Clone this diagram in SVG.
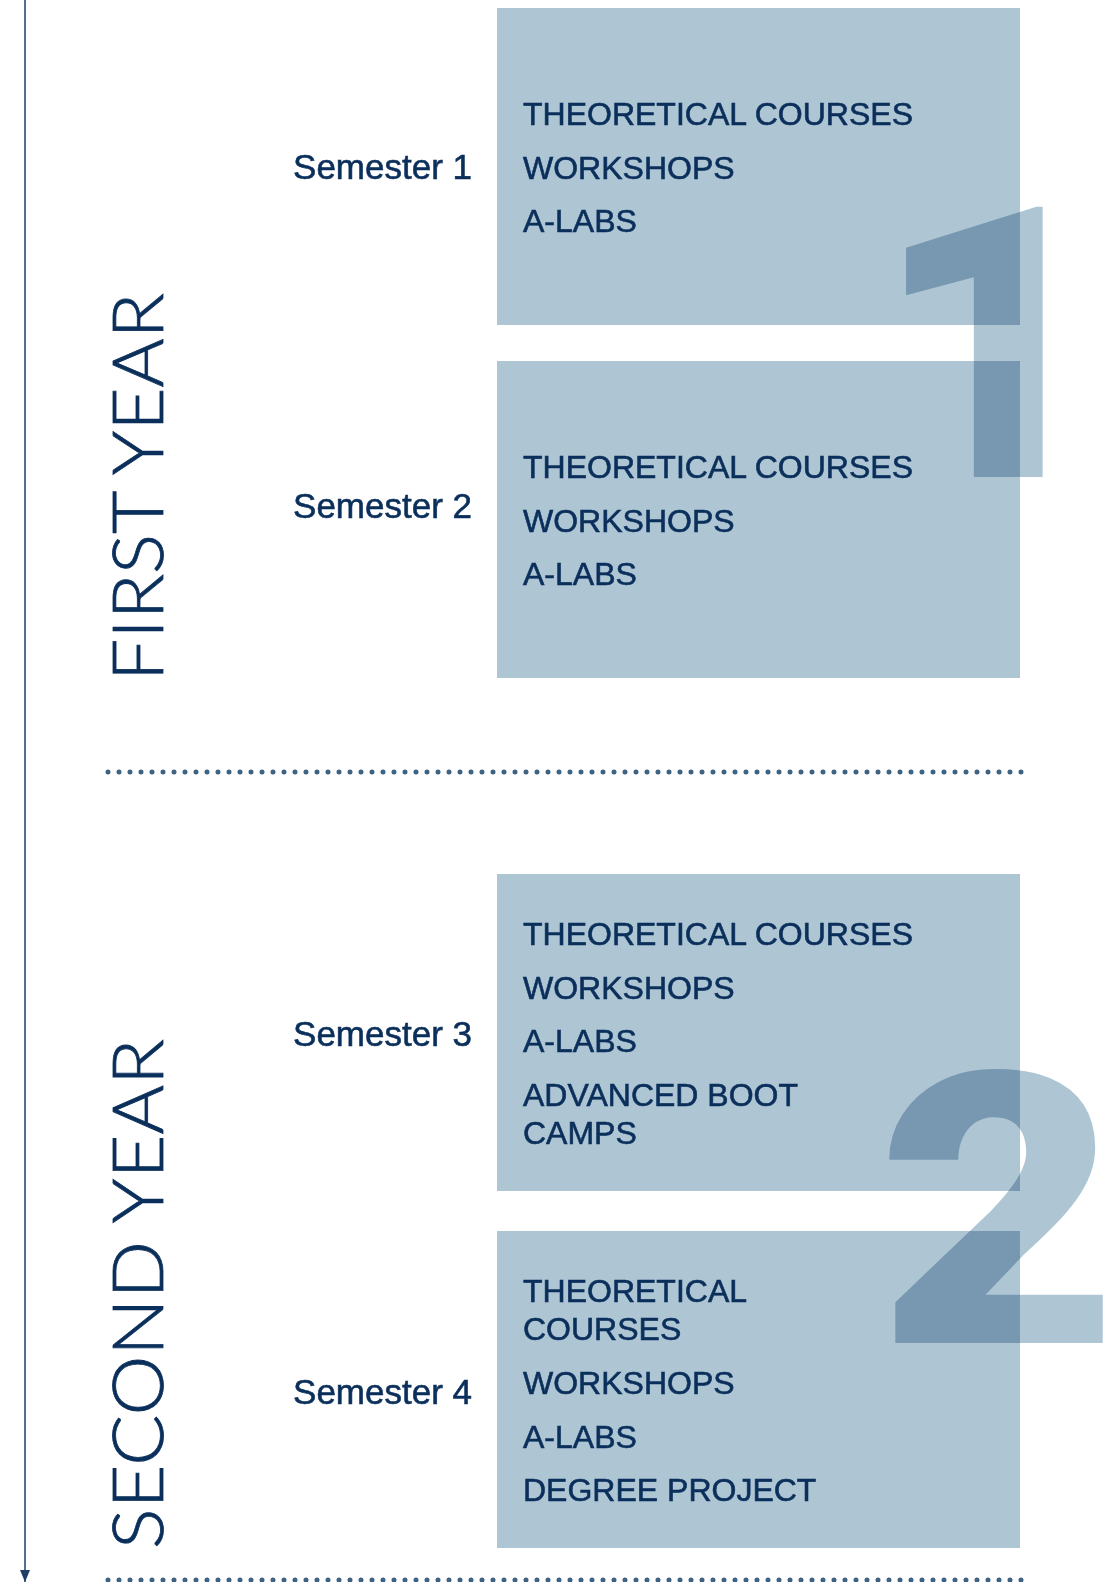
<svg xmlns="http://www.w3.org/2000/svg" width="1120" height="1582" viewBox="0 0 1120 1582">
<defs>
<style>
.box{fill:#aec5d4}
.item{font-family:"Liberation Sans",Arial,sans-serif;font-size:32px;fill:#0b2f5b;stroke:#0b2f5b;stroke-width:0.6}
.sem{font-family:"Liberation Sans",Arial,sans-serif;font-size:35px;fill:#0b2f5b;stroke:#0b2f5b;stroke-width:0.6;text-anchor:end}
.year{font-family:Lato,"Liberation Sans",sans-serif;font-weight:300;font-size:71px;fill:#0b2f5b;stroke:#0b2f5b;stroke-width:0.8}
.num{font-family:Roboto,"Liberation Sans",sans-serif;font-weight:900;font-size:380px;fill:#aec5d4;mix-blend-mode:multiply}
.dots{stroke:#3e6282;stroke-width:5;stroke-linecap:round;stroke-dasharray:0 11;fill:none}
</style>
<marker id="arr" viewBox="0 0 12 10" refX="12" refY="5" markerWidth="12" markerHeight="10" markerUnits="userSpaceOnUse" orient="auto">
<path d="M0,0 L12,5 L0,10 Z" fill="#1f3f6a"/>
</marker>
</defs>
<rect width="1120" height="1582" fill="#fff"/>
<g id="connectors">
<line x1="25" y1="0" x2="25" y2="1582" stroke="#1f3f6a" stroke-width="1.5" marker-end="url(#arr)"/>
<line class="dots" x1="108" y1="772" x2="1022" y2="772"/>
<line class="dots" x1="108" y1="1580" x2="1022" y2="1580"/>
</g>
<g id="year1"><text class="year" transform="translate(163,681) rotate(-90)" textLength="388" lengthAdjust="spacingAndGlyphs">FIRST YEAR</text></g>
<g id="year2"><text class="year" transform="translate(163,1549) rotate(-90)" textLength="510" lengthAdjust="spacingAndGlyphs">SECOND YEAR</text></g>
<g id="sem1"><text class="sem" x="472" y="179">Semester 1</text></g>
<g id="sem2"><text class="sem" x="472" y="518">Semester 2</text></g>
<g id="sem3"><text class="sem" x="472" y="1046">Semester 3</text></g>
<g id="sem4"><text class="sem" x="472" y="1404">Semester 4</text></g>
<g id="box1"><rect class="box" x="497" y="8" width="523" height="317"/>
<text class="item" x="523" y="125">THEORETICAL COURSES</text>
<text class="item" x="523" y="179">WORKSHOPS</text>
<text class="item" x="523" y="232">A-LABS</text></g>
<g id="box2"><rect class="box" x="497" y="361" width="523" height="317"/>
<text class="item" x="523" y="478">THEORETICAL COURSES</text>
<text class="item" x="523" y="532">WORKSHOPS</text>
<text class="item" x="523" y="585">A-LABS</text></g>
<g id="box3"><rect class="box" x="497" y="874" width="523" height="317"/>
<text class="item" x="523" y="945">THEORETICAL COURSES</text>
<text class="item" x="523" y="999">WORKSHOPS</text>
<text class="item" x="523" y="1052">A-LABS</text>
<text class="item" x="523" y="1106">ADVANCED BOOT</text>
<text class="item" x="523" y="1144">CAMPS</text></g>
<g id="box4"><rect class="box" x="497" y="1231" width="523" height="317"/>
<text class="item" x="523" y="1302">THEORETICAL</text>
<text class="item" x="523" y="1340">COURSES</text>
<text class="item" x="523" y="1394">WORKSHOPS</text>
<text class="item" x="523" y="1448">A-LABS</text>
<text class="item" x="523" y="1501">DEGREE PROJECT</text></g>
<g id="numeral1"><text class="num" transform="translate(872,477) scale(1.1,1)">1</text></g>
<g id="numeral2"><text class="num" transform="translate(877,1343) scale(1.1,1)">2</text></g>
</svg>
